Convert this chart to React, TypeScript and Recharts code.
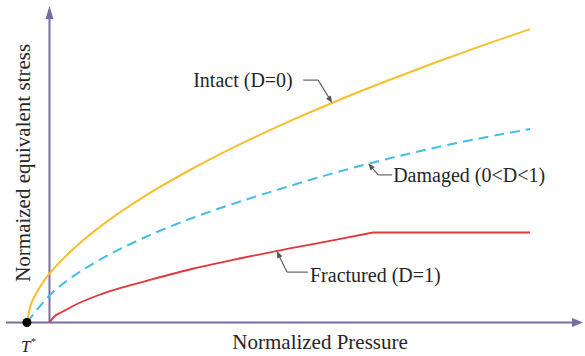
import React from 'react';
import { ComposedChart, Line, XAxis, YAxis, ReferenceLine, ReferenceDot } from 'recharts';

// ---- data (normalized units) ----
const T_STAR = -0.47;
const X_AXIS_RANGE = [-0.905, 11.1];
const Y_AXIS_TOP = 10.55;

const intact = [
  { x: -0.47, y: 0 }, { x: -0.4, y: 0.54 }, { x: -0.3, y: 0.9 }, { x: -0.12, y: 1.38 },
  { x: 0, y: 1.63 }, { x: 0.5, y: 2.46 }, { x: 1.2, y: 3.37 }, { x: 2, y: 4.23 },
  { x: 3, y: 5.15 }, { x: 4, y: 5.97 }, { x: 5, y: 6.71 }, { x: 6, y: 7.4 },
  { x: 7, y: 8.04 }, { x: 8, y: 8.65 }, { x: 9, y: 9.23 }, { x: 10, y: 9.78 },
];
const damaged = [
  { x: -0.47, y: 0 }, { x: 0, y: 0.9 }, { x: 0.5, y: 1.55 }, { x: 1, y: 2.05 },
  { x: 2, y: 2.85 }, { x: 3, y: 3.5 }, { x: 4, y: 4.05 }, { x: 5, y: 4.55 },
  { x: 6, y: 5.02 }, { x: 7, y: 5.44 }, { x: 8, y: 5.82 }, { x: 9, y: 6.15 },
  { x: 10, y: 6.45 },
];
const fracturedCurve = [
  { x: 0, y: 0 }, { x: 0.1, y: 0.2 }, { x: 0.25, y: 0.34 }, { x: 0.5, y: 0.56 },
  { x: 1, y: 0.9 }, { x: 1.5, y: 1.16 }, { x: 2, y: 1.38 }, { x: 3, y: 1.8 },
  { x: 4, y: 2.15 }, { x: 5, y: 2.47 }, { x: 6, y: 2.77 }, { x: 6.73, y: 3.0 },
];
const fracturedFlat = [{ x: 6.73, y: 3.0 }, { x: 10, y: 3.0 }];

const labels = {
  intact: 'Intact (D=0)',
  damaged: 'Damaged (0<D<1)',
  fractured: 'Fractured (D=1)',
  xTitle: 'Normalized Pressure',
  yTitle: 'Normaized equivalent stress',
};

// leader lines: [start, end(tip)]
const intactLeader = [[{ x: 5.28, y: 8.08 }, { x: 5.59, y: 8.08 }], [{ x: 5.59, y: 8.08 }, { x: 5.88, y: 7.32 }]];
const damagedLeader = [[{ x: 7.13, y: 4.92 }, { x: 6.84, y: 4.92 }], [{ x: 6.84, y: 4.92 }, { x: 6.63, y: 5.3 }]];
const fracturedLeader = [[{ x: 5.38, y: 1.68 }, { x: 4.94, y: 1.68 }], [{ x: 4.94, y: 1.68 }, { x: 4.73, y: 2.38 }]];

const AXIS_COLOR = '#776ca3';
const TEXT_COLOR = '#262626';
const LEADER_COLOR = '#555555';

const arrowShape = (color: string, width: number, head: number, halfW: number, withHead: boolean) => (p: any) => {
  const { x1, y1, x2, y2 } = p;
  const dx = x2 - x1;
  const dy = y2 - y1;
  const len = Math.hypot(dx, dy) || 1;
  const ux = dx / len;
  const uy = dy / len;
  if (!withHead) {
    return <line x1={x1} y1={y1} x2={x2} y2={y2} stroke={color} strokeWidth={width} />;
  }
  const bx = x2 - ux * head;
  const by = y2 - uy * head;
  const px = -uy * halfW;
  const py = ux * halfW;
  return (
    <g>
      <line x1={x1} y1={y1} x2={bx + ux} y2={by + uy} stroke={color} strokeWidth={width} />
      <polygon points={`${x2},${y2} ${bx + px},${by + py} ${bx - px},${by - py}`} fill={color} />
    </g>
  );
};

const textShape = (text: string, opts: { dx?: number; dy?: number; anchor?: string; size?: number; rotate?: boolean }) => (p: any) => {
  const x = p.cx + (opts.dx || 0);
  const y = p.cy + (opts.dy || 0);
  return (
    <text
      x={x}
      y={y}
      transform={opts.rotate ? `rotate(-90, ${x}, ${y})` : undefined}
      style={{ fontFamily: 'Liberation Serif', fontSize: opts.size || 20, fill: TEXT_COLOR, textAnchor: (opts.anchor || 'start') as any }}
    >
      {text}
    </text>
  );
};

const tStarShape = (p: any) => (
  <g>
    <circle cx={p.cx} cy={p.cy} r={4.5} fill="#000" />
    <text x={p.cx - 6} y={p.cy + 29.5} style={{ fontFamily: 'Liberation Serif', fontStyle: 'italic', fontSize: 17, fill: TEXT_COLOR }}>
      T<tspan dy={-7} style={{ fontSize: 10 }}>*</tspan>
    </text>
  </g>
);

const leaders = [intactLeader, damagedLeader, fracturedLeader];

export default function App() {
  return (
    <div style={{ position: 'absolute', left: 0, top: 0, background: '#fff' }}>
      <ComposedChart width={585} height={356} margin={{ top: 6, right: 2, bottom: 33.5, left: 6 }}>
        <XAxis hide type="number" dataKey="x" domain={X_AXIS_RANGE} allowDataOverflow />
        <YAxis hide type="number" dataKey="y" domain={[0, Y_AXIS_TOP]} allowDataOverflow />

        <ReferenceLine
          segment={[{ x: X_AXIS_RANGE[0], y: 0 }, { x: X_AXIS_RANGE[1], y: 0 }]}
          ifOverflow="visible"
          shape={arrowShape(AXIS_COLOR, 2, 11, 4.5, true)}
        />
        <ReferenceLine
          segment={[{ x: 0, y: 0 }, { x: 0, y: Y_AXIS_TOP }]}
          ifOverflow="visible"
          shape={arrowShape(AXIS_COLOR, 2, 13, 4, true)}
        />

        <Line data={intact} dataKey="y" type="monotone" stroke="#f5c030" strokeWidth={2} dot={false} isAnimationActive={false} />
        <Line data={damaged} dataKey="y" type="monotone" stroke="#41bde6" strokeWidth={2} strokeDasharray="10 6" dot={false} isAnimationActive={false} />
        <Line data={fracturedCurve} dataKey="y" type="monotone" stroke="#e0363c" strokeWidth={1.8} dot={false} isAnimationActive={false} />
        <Line data={fracturedFlat} dataKey="y" type="linear" stroke="#e0363c" strokeWidth={1.8} dot={false} isAnimationActive={false} />

        {leaders.map((ld, i) =>
          ld.map((seg, j) => (
            <ReferenceLine
              key={`ld-${i}-${j}`}
              segment={seg}
              ifOverflow="visible"
              shape={arrowShape(LEADER_COLOR, 1.1, 7, 2.8, j === 1)}
            />
          ))
        )}

        <ReferenceDot x={2.99} y={7.85} r={0} ifOverflow="visible" shape={textShape(labels.intact, {})} />
        <ReferenceDot x={7.15} y={4.68} r={0} ifOverflow="visible" shape={textShape(labels.damaged, {})} />
        <ReferenceDot x={5.42} y={1.35} r={0} ifOverflow="visible" shape={textShape(labels.fractured, {})} />
        <ReferenceDot x={5.63} y={0} r={0} ifOverflow="visible" shape={textShape(labels.xTitle, { dy: 26.5, anchor: 'middle', size: 21 })} />
        <ReferenceDot x={-0.41} y={5.32} r={0} ifOverflow="visible" shape={textShape(labels.yTitle, { anchor: 'middle', size: 21, rotate: true })} />
        <ReferenceDot x={T_STAR} y={0} r={4.5} ifOverflow="visible" shape={tStarShape} />
      </ComposedChart>
    </div>
  );
}
